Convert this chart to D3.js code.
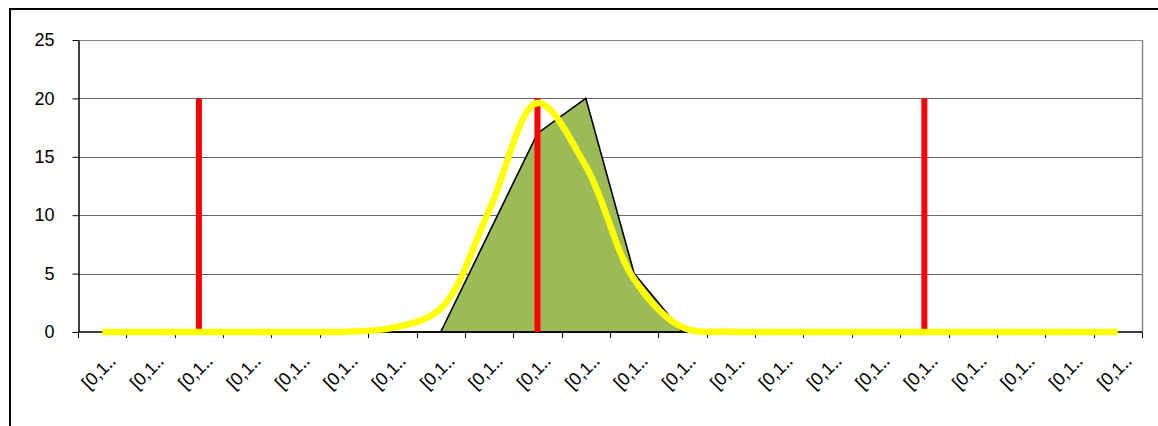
<!DOCTYPE html>
<html lang="en">
  <head>
    <meta charset="UTF-8" />
    <title>Distribution chart</title>
    <style>
      html, body { margin: 0; padding: 0; background: #fff; }
      svg { display: block; }
    </style>
    <script src="https://cdn.jsdelivr.net/npm/d3@7/dist/d3.min.js"></script>
  </head>
  <body>
    <script>
      const categories = d3.range(22).map(() => "[0,1‥");
      const histogram = [0, 0, 0, 0, 0, 0, 0, 0, 8.5, 17, 20, 5, 0, 0, 0, 0, 0, 0, 0, 0, 0, 0];
      const markers = [0, 0, 20, 0, 0, 0, 0, 0, 0, 20, 0, 0, 0, 0, 0, 0, 0, 20, 0, 0, 0, 0];
      const fitted = [0, 0, 0, 0, 0, 0.03, 0.35, 2.0, 10.4, 19.6, 14.2, 4.5, 0.4, 0.03, 0, 0, 0, 0, 0, 0, 0, 0];
      const yTicks = [0, 5, 10, 15, 20, 25];

      const width = 1158, height = 426;
      const plot = { left: 78, right: 1142, top: 40, bottom: 332 };
      const font = "'Liberation Sans', Arial, sans-serif";

      const svg = d3
        .select(document.body)
        .append("svg")
        .attr("width", width)
        .attr("height", height)
        .attr("font-family", font);

      // chart frame
      svg
        .append("rect")
        .attr("x", 10)
        .attr("y", 9)
        .attr("width", 1170)
        .attr("height", 440)
        .attr("fill", "none")
        .attr("stroke", "#000")
        .attr("stroke-width", 2);

      const x = d3.scaleBand().domain(d3.range(categories.length)).range([plot.left, plot.right]);
      const y = d3.scaleLinear().domain([0, 25]).range([plot.bottom, plot.top]);
      const cx = (i) => x(i) + x.bandwidth() / 2;

      // grid
      svg
        .append("g")
        .selectAll("line")
        .data(yTicks.filter((d) => d > 0))
        .join("line")
        .attr("x1", plot.left)
        .attr("x2", plot.right)
        .attr("y1", (d) => Math.round(y(d)) + 0.5)
        .attr("y2", (d) => Math.round(y(d)) + 0.5)
        .attr("stroke", (d) => (d === 25 ? "#888" : "#666"))
        .attr("stroke-width", 1);

      svg
        .append("line")
        .attr("x1", plot.right + 0.5)
        .attr("x2", plot.right + 0.5)
        .attr("y1", plot.top)
        .attr("y2", plot.bottom)
        .attr("stroke", "#888")
        .attr("stroke-width", 1.5);

      // histogram area
      svg
        .append("path")
        .datum(histogram)
        .attr("fill", "#9BBB59")
        .attr("stroke", "#000")
        .attr("stroke-width", 1.6)
        .attr(
          "d",
          d3
            .area()
            .x((d, i) => cx(i))
            .y0(y(0))
            .y1((d) => y(d))
        );

      // y axis
      const yAxis = svg
        .append("g")
        .attr("transform", `translate(${plot.left + 0.5},0)`)
        .call(d3.axisLeft(y).tickValues(yTicks).tickSize(6).tickPadding(18).tickSizeOuter(0));
      yAxis.select(".domain").attr("stroke", "#000").attr("stroke-width", 1.5);
      yAxis.selectAll(".tick line").attr("stroke", "#000");
      yAxis
        .selectAll("text")
        .attr("font-size", 18)
        .attr("fill", "#000")
        .attr("font-family", font);

      // x axis
      const xAxis = svg.append("g").attr("transform", `translate(0,${plot.bottom})`);
      xAxis
        .append("line")
        .attr("x1", plot.left)
        .attr("x2", plot.right)
        .attr("stroke", "#000")
        .attr("stroke-width", 1.5);
      xAxis
        .selectAll("line.tick")
        .data(d3.range(categories.length + 1))
        .join("line")
        .attr("class", "tick")
        .attr("x1", (i) => Math.round(plot.left + i * x.bandwidth()) + 0.5)
        .attr("x2", (i) => Math.round(plot.left + i * x.bandwidth()) + 0.5)
        .attr("y1", 0)
        .attr("y2", 6)
        .attr("stroke", "#000");
      xAxis
        .selectAll("text.label")
        .data(categories)
        .join("text")
        .attr("class", "label")
        .attr("text-anchor", "end")
        .attr("font-size", 18)
        .attr("fill", "#000")
        .attr("transform", (d, i) => `translate(${cx(i) + 15},30) rotate(-45)`)
        .text((d) => d);

      // red markers
      svg
        .append("g")
        .selectAll("rect")
        .data(markers.map((v, i) => ({ v, i })).filter((d) => d.v > 0))
        .join("rect")
        .attr("x", (d) => cx(d.i) - 3)
        .attr("width", 6)
        .attr("y", (d) => y(d.v))
        .attr("height", (d) => y(0) - y(d.v))
        .attr("fill", "#FF0000");

      // fitted curve
      svg
        .append("path")
        .datum(fitted)
        .attr("fill", "none")
        .attr("stroke", "#FFFF00")
        .attr("stroke-width", 6.5)
        .attr(
          "d",
          d3
            .line()
            .x((d, i) => cx(i))
            .y((d) => y(d))
            .curve(d3.curveCatmullRom)
        );
    </script>
  </body>
</html>
